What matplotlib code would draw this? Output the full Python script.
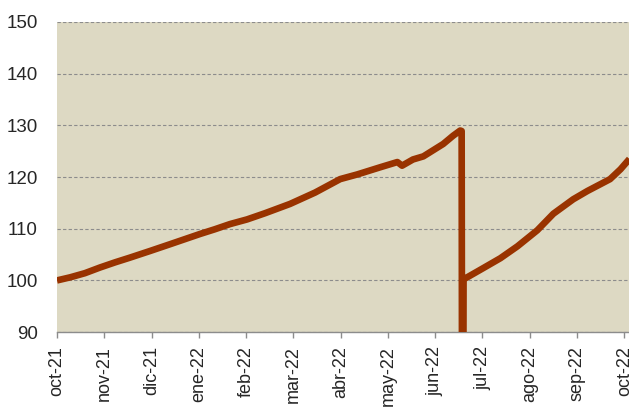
import matplotlib
matplotlib.use("Agg")
from matplotlib import pyplot as plt

# months since oct-21 (category axis, one unit per month)
meses = [0.00, 0.28, 0.59, 0.91, 1.23, 1.54, 1.97, 2.39, 2.71, 3.03, 3.34,
         3.66, 4.02, 4.40, 4.93, 5.46, 5.99, 6.35, 6.84, 7.20, 7.30, 7.53,
         7.75, 7.89, 8.17, 8.38, 8.53, 8.56, 8.58, 8.60, 9.02, 9.38, 9.74,
         10.16, 10.50, 10.92, 11.22, 11.70, 11.92, 12.11]
indice = [100.0, 100.6, 101.4, 102.5, 103.5, 104.4, 105.7, 107.0, 108.0,
          109.0, 109.9, 110.9, 111.8, 113.0, 114.8, 117.0, 119.6, 120.5,
          121.9, 122.9, 122.2, 123.4, 124.0, 124.8, 126.4, 128.0, 129.0,
          128.9, 0.0, 100.2, 102.4, 104.3, 106.6, 109.7, 112.9, 115.7,
          117.3, 119.6, 121.5, 123.5]
etiquetas = ['oct-21', 'nov-21', 'dic-21', 'ene-22', 'feb-22', 'mar-22',
             'abr-22', 'may-22', 'jun-22', 'jul-22', 'ago-22', 'sep-22',
             'oct-22']
yticks = [90, 100, 110, 120, 130, 140, 150]

plt.rcParams['font.family'] = ['Liberation Sans', 'DejaVu Sans']

fig = plt.figure(figsize=(6.29, 4.07), dpi=100)
ax = fig.add_axes([0.0906, 0.184, 0.9094, 0.762])
ax.set_facecolor('#DDD9C3')

ax.plot(meses, indice, color='#993300', lw=4.8, solid_joinstyle='round',
        solid_capstyle='butt', zorder=3)

ax.set_xlim(0, 12.1)
ax.set_ylim(90, 150)
ax.set_yticks(yticks)
ax.set_xticks(range(len(etiquetas)))
ax.set_xticklabels(etiquetas, rotation=90)

ax.grid(axis='y', color='#8C8C8C', ls=(0, (3, 2)), lw=0.8)
ax.set_axisbelow(True)
for s in ['left', 'right', 'top']:
    ax.spines[s].set_visible(False)
ax.spines['bottom'].set_color('#8C8C8C')
ax.spines['bottom'].set_linewidth(1.0)
ax.tick_params(axis='y', length=0, pad=14, labelsize=13.5, colors='#262626')
ax.tick_params(axis='x', length=4, width=1, color='#8C8C8C', pad=6,
               labelsize=13, labelcolor='#262626')

fig.savefig('out.png', dpi=100)
